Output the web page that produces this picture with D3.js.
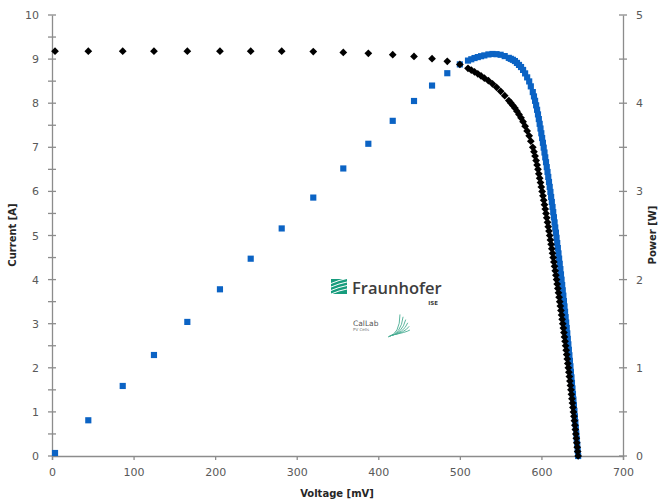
<html>
<head>
<meta charset="utf-8">
<script src="https://cdn.jsdelivr.net/npm/d3@7"></script>
<style>
  body { margin: 0; background: #fff; }
  .tick text { font-family: "DejaVu Sans", sans-serif; font-size: 11px; fill: #595959; }
  .title { font-family: "DejaVu Sans", sans-serif; font-size: 10px; font-weight: bold; fill: #262626; }
</style>
</head>
<body>
<script>
// measured points, voltage in mV, current in A, power in W
var voltage = [3.7, 44.5, 86.7, 125, 165.9, 205.9, 243.6, 281.6, 320.3, 357.1, 387.8, 417.7, 443.8, 465.9, 484.6,
  500, 510, 514, 518, 522, 526, 530, 535, 540, 545, 550, 555, 560, 562.5, 565, 567.5, 570, 572.5, 575, 577.5, 580, 582.5, 585, 587,
  589.41, 590.86, 592.23, 593.50, 594.69, 595.78, 596.82, 597.85, 598.86, 599.86,
  600.85, 601.83, 602.79, 603.75, 604.69, 605.63, 606.55, 607.47, 608.37, 609.27,
  610.15, 611.03, 611.89, 612.75, 613.61, 614.45, 615.29, 616.11, 616.93, 617.75,
  618.55, 619.35, 620.13, 620.91, 621.69, 622.45, 623.21, 623.95, 624.69, 625.43,
  626.15, 626.87, 627.58, 628.28, 628.97, 629.66, 630.34, 631.02, 631.69, 632.35,
  633.00, 633.65, 634.29, 634.93, 635.56, 636.19, 636.81, 637.43, 638.04, 638.65,
  639.25, 639.85, 640.44, 641.03, 641.61, 642.19, 642.76, 643.33, 643.89, 644.45, 645.00];

var current = [9.18, 9.18, 9.18, 9.18, 9.18, 9.18, 9.18, 9.18, 9.17, 9.15, 9.13, 9.10, 9.06, 9.01, 8.95,
  8.88, 8.79, 8.75, 8.71, 8.665, 8.618, 8.57, 8.51, 8.44, 8.36, 8.27, 8.17, 8.06, 8.005, 7.95, 7.89, 7.82, 7.745, 7.67, 7.58, 7.48, 7.37, 7.26, 7.14,
  7.0, 6.9, 6.8, 6.7, 6.6, 6.5, 6.4, 6.3, 6.2, 6.1,
  6.0, 5.9, 5.8, 5.7, 5.6, 5.5, 5.4, 5.3, 5.2, 5.1,
  5.0, 4.9, 4.8, 4.7, 4.6, 4.5, 4.4, 4.3, 4.2, 4.1,
  4.0, 3.9, 3.8, 3.7, 3.6, 3.5, 3.4, 3.3, 3.2, 3.1,
  3.0, 2.9, 2.8, 2.7, 2.6, 2.5, 2.4, 2.3, 2.2, 2.1,
  2.0, 1.9, 1.8, 1.7, 1.6, 1.5, 1.4, 1.3, 1.2, 1.1,
  1.0, 0.9, 0.8, 0.7, 0.6, 0.5, 0.4, 0.3, 0.2, 0.1, 0.0];

var power = [0.034, 0.405, 0.794, 1.145, 1.52, 1.89, 2.237, 2.58, 2.93, 3.26, 3.54, 3.80, 4.025, 4.20, 4.34,
  4.440, 4.483, 4.498, 4.512, 4.523, 4.533, 4.542, 4.553, 4.558, 4.556, 4.549, 4.534, 4.514, 4.503, 4.492, 4.478, 4.457, 4.434, 4.410, 4.377, 4.338, 4.293, 4.247, 4.191,
  4.126, 4.077, 4.027, 3.976, 3.925, 3.873, 3.820, 3.766, 3.713, 3.659,
  3.605, 3.551, 3.496, 3.441, 3.386, 3.331, 3.275, 3.220, 3.164, 3.107,
  3.051, 2.994, 2.937, 2.880, 2.823, 2.765, 2.707, 2.649, 2.591, 2.533,
  2.474, 2.415, 2.357, 2.297, 2.238, 2.179, 2.119, 2.059, 1.999, 1.939,
  1.878, 1.818, 1.757, 1.696, 1.635, 1.574, 1.513, 1.451, 1.390, 1.328,
  1.266, 1.204, 1.142, 1.079, 1.017, 0.954, 0.892, 0.829, 0.766, 0.703,
  0.639, 0.576, 0.512, 0.449, 0.385, 0.321, 0.257, 0.193, 0.129, 0.064, 0.000];

var xTicks = [0, 100, 200, 300, 400, 500, 600, 700];
var currentTicks = [0, 1, 2, 3, 4, 5, 6, 7, 8, 9, 10];
var powerTicks = [0, 1, 2, 3, 4, 5];

var W = 660, H = 504;
var svg = d3.select("body").append("svg").attr("width", W).attr("height", H);

var x = d3.scaleLinear().domain([0, 700]).range([52, 623]);
var yI = d3.scaleLinear().domain([0, 10]).range([456, 15]);
var yP = d3.scaleLinear().domain([0, 5]).range([456, 15]);
var axisColor = "#8c8c8c";

// logo in the middle of the plot
var logo = svg.append("g");
logo.append("rect").attr("x", 331).attr("y", 279).attr("width", 16).attr("height", 15).attr("fill", "#179c7d");
[3, 6.5, 10, 13.5].forEach(function (o) {
  logo.append("path")
    .attr("d", "M331," + (279 + o + 1.5) + " Q339," + (279 + o - 2) + " 347," + (279 + o - 3.5))
    .attr("stroke", "#fff").attr("stroke-width", 1).attr("fill", "none");
});
logo.append("text").attr("x", 352).attr("y", 293.5)
  .style("font-family", "'Open Sans', sans-serif").style("font-size", "16.5px").style("font-weight", "600")
  .attr("fill", "#3d3d3d").text("Fraunhofer");
logo.append("text").attr("x", 438).attr("y", 305).attr("text-anchor", "end")
  .style("font-family", "'DejaVu Sans', sans-serif").style("font-size", "5.5px").style("font-weight", "bold")
  .attr("fill", "#3d3d3d").text("ISE");
logo.append("text").attr("x", 353).attr("y", 325.5)
  .style("font-family", "'DejaVu Sans', sans-serif").style("font-size", "7.5px")
  .attr("fill", "#555").text("CalLab");
logo.append("text").attr("x", 353).attr("y", 331)
  .style("font-family", "'DejaVu Sans', sans-serif").style("font-size", "4px")
  .attr("fill", "#777").text("PV Cells");
// fan of arcs next to CalLab
[0, 1, 2, 3, 4, 5].forEach(function (k) {
  var a = -0.35 + k * 0.3;
  var r = 22;
  var cx = 386, cy = 338;
  var ex = cx + r * Math.cos(-Math.PI / 4 + a * 0.6), ey = cy - 5 + r * Math.sin(-Math.PI / 4 + a * 0.6) * 0.95;
  logo.append("path")
    .attr("d", "M" + (cx + 2 + k * 0.8) + "," + (cy - 1 - k * 0.4) + " Q" + (cx + 14 + k * 1.2) + "," + (cy - 4 - k * 0.3) + " " + (ex + 2) + "," + (ey - 1))
    .attr("stroke", "#48ad93").attr("stroke-width", 0.9).attr("fill", "none");
});

// axes
var gx = svg.append("g").attr("transform", "translate(0,456)")
  .call(d3.axisBottom(x).tickValues(xTicks).tickSize(4).tickPadding(8));
var gl = svg.append("g").attr("transform", "translate(52,0)")
  .call(d3.axisLeft(yI).tickValues(currentTicks).tickSize(0).tickPadding(13));
var gr = svg.append("g").attr("transform", "translate(623,0)")
  .call(d3.axisRight(yP).tickValues(powerTicks).tickFormat(d3.format("d")).tickSize(0).tickPadding(13));
[gx, gl, gr].forEach(function (g) {
  g.select(".domain").attr("stroke", axisColor).attr("stroke-width", 1.3);
  g.selectAll(".tick line").attr("stroke", axisColor).attr("stroke-width", 1.3);
});

// crossing ticks at every half unit on both value axes
var halfI = d3.range(0, 10.01, 0.5);
svg.append("g").selectAll("line").data(halfI).enter().append("line")
  .attr("x1", 48).attr("x2", 56)
  .attr("y1", function (d) { return yI(d); }).attr("y2", function (d) { return yI(d); })
  .attr("stroke", axisColor).attr("stroke-width", 1.3);
var halfP = d3.range(0, 5.01, 0.5);
svg.append("g").selectAll("line").data(halfP).enter().append("line")
  .attr("x1", 619).attr("x2", 627)
  .attr("y1", function (d) { return yP(d); }).attr("y2", function (d) { return yP(d); })
  .attr("stroke", axisColor).attr("stroke-width", 1.3);

// axis titles
svg.append("text").attr("class", "title").attr("text-anchor", "middle")
  .attr("transform", "translate(16,235) rotate(-90)").text("Current [A]");
svg.append("text").attr("class", "title").attr("text-anchor", "middle")
  .attr("transform", "translate(656,235) rotate(-90)").text("Power [W]");
svg.append("text").attr("class", "title").attr("text-anchor", "middle")
  .attr("x", 337).attr("y", 497).text("Voltage [mV]");

// series
var pts = voltage.map(function (v, i) { return { v: v, i: current[i], p: power[i] }; });

svg.append("g").selectAll("path").data(pts).enter().append("path")
  .attr("d", d3.symbol().type(d3.symbolSquare).size(38))
  .attr("transform", function (d) { return "translate(" + x(d.v) + "," + yP(d.p) + ")"; })
  .attr("fill", "#0b63c4");

svg.append("g").selectAll("path").data(pts).enter().append("path")
  .attr("d", d3.symbol().type(d3.symbolSquare).size(30))
  .attr("transform", function (d) { return "translate(" + x(d.v) + "," + yI(d.i) + ") rotate(45)"; })
  .attr("fill", "#000");
</script>
</body>
</html>
